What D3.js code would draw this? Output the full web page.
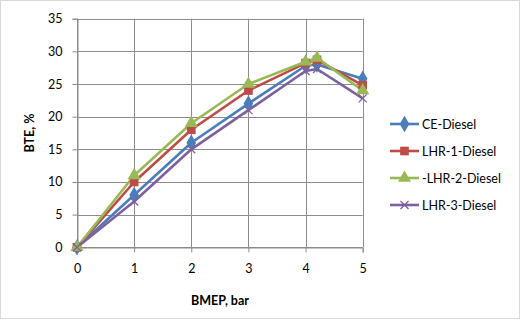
<!DOCTYPE html>
<html>
<head>
<meta charset="utf-8">
<script src="https://cdn.jsdelivr.net/npm/d3@7"></script>
<style>
  body { margin: 0; background: #fff; }
  text { font-family: Lato, "Open Sans", sans-serif; fill: #000; }
</style>
</head>
<body>
<svg id="chart" width="521" height="320"></svg>
<script>
// data
var bmep = [0, 1, 2, 3, 4, 4.2, 5];
var ceDiesel = [0, 8, 16, 22, 27.8, 28, 25.8];
var lhr1Diesel = [0, 10, 18, 24, 28.2, 28.7, 24.8];
var lhr2Diesel = [0, 11, 19, 25, 28.4, 29, 24];
var lhr3Diesel = [0, 7, 15, 21, 27, 27.3, 22.8];
var seriesNames = ["CE-Diesel", "LHR-1-Diesel", "-LHR-2-Diesel", "LHR-3-Diesel"];
var xTicks = [0, 1, 2, 3, 4, 5];
var yTicks = [0, 5, 10, 15, 20, 25, 30, 35];

var series = [
  { name: seriesNames[0], values: ceDiesel, color: "#4a7ebb", symbol: d3.symbolDiamond, size: 80 },
  { name: seriesNames[1], values: lhr1Diesel, color: "#be4b48", symbol: d3.symbolSquare, size: 75 },
  { name: seriesNames[2], values: lhr2Diesel, color: "#98b954", symbol: d3.symbolTriangle, size: 75 },
  { name: seriesNames[3], values: lhr3Diesel, color: "#7d60a0", symbol: "x", size: 0 }
];

var svg = d3.select("#chart");

// outer chart border
svg.append("rect")
  .attr("x", 0.5).attr("y", 0.5)
  .attr("width", 519).attr("height", 318)
  .attr("fill", "#fff")
  .attr("stroke", "#d9d9d9");

var x = d3.scaleLinear().domain([0, 5]).range([77, 362.7]);
var y = d3.scaleLinear().domain([0, 35]).range([247.3, 18.7]);

// gridlines
svg.append("g").selectAll("line").data(yTicks).join("line")
  .attr("x1", x(0)).attr("x2", x(5))
  .attr("y1", d => Math.round(y(d)) + 0.5).attr("y2", d => Math.round(y(d)) + 0.5)
  .attr("stroke", "#8c8c8c");
svg.append("g").selectAll("line").data(xTicks).join("line")
  .attr("x1", d => Math.round(x(d)) + 0.5).attr("x2", d => Math.round(x(d)) + 0.5)
  .attr("y1", y(35)).attr("y2", y(0))
  .attr("stroke", "#8c8c8c");

// axes
var xAxis = svg.append("g")
  .attr("transform", "translate(0," + (Math.round(y(0)) + 0.5) + ")")
  .call(d3.axisBottom(x).tickValues(xTicks).tickFormat(d3.format("d")).tickSize(5).tickPadding(12));
var yAxis = svg.append("g")
  .attr("transform", "translate(" + (Math.round(x(0)) + 0.5) + ",0)")
  .call(d3.axisLeft(y).tickValues(yTicks).tickFormat(d3.format("d")).tickSize(5).tickPadding(10));
[xAxis, yAxis].forEach(function (a) {
  a.select(".domain").attr("stroke", "#8c8c8c");
  a.selectAll(".tick line").attr("stroke", "#8c8c8c");
  a.selectAll(".tick text").style("font-size", "12.5px").style("font-family", "Lato, sans-serif");
});

// lines
var line = d3.line()
  .x((d, i) => x(bmep[i]))
  .y(d => y(d));

function drawMarker(g, s, px, py) {
  if (s.symbol === "x") {
    g.append("path")
      .attr("d", "M" + (px - 4) + "," + (py - 4) + "L" + (px + 4) + "," + (py + 4) +
                 "M" + (px - 4) + "," + (py + 4) + "L" + (px + 4) + "," + (py - 4))
      .attr("stroke", s.color).attr("stroke-width", 1.3).attr("fill", "none");
  } else {
    g.append("path")
      .attr("d", d3.symbol().type(s.symbol).size(s.size)())
      .attr("transform", "translate(" + px + "," + py + ")")
      .attr("fill", s.color);
  }
}

series.forEach(function (s) {
  svg.append("path")
    .datum(s.values)
    .attr("d", line)
    .attr("fill", "none")
    .attr("stroke", s.color)
    .attr("stroke-width", 2.6)
    .attr("stroke-linejoin", "round");
});
series.forEach(function (s) {
  var g = svg.append("g");
  s.values.forEach(function (v, i) {
    drawMarker(g, s, x(bmep[i]), y(v));
  });
});

// legend
var legend = svg.append("g");
series.forEach(function (s, i) {
  var ly = 124 + i * 27;
  legend.append("line")
    .attr("x1", 390).attr("x2", 419)
    .attr("y1", ly).attr("y2", ly)
    .attr("stroke", s.color).attr("stroke-width", 2.6);
  drawMarker(legend, s, 404.5, ly);
  legend.append("text")
    .attr("x", 422).attr("y", ly + 4.5)
    .style("font-size", "12.5px")
    .text(s.name);
});

// axis titles
svg.append("text")
  .attr("x", 220).attr("y", 305)
  .attr("text-anchor", "middle")
  .style("font-size", "12.5px").style("font-weight", "bold")
  .text("BMEP, bar");
svg.append("text")
  .attr("transform", "translate(34,133) rotate(-90)")
  .attr("text-anchor", "middle")
  .style("font-size", "12.5px").style("font-weight", "bold")
  .text("BTE, %");
</script>
</body>
</html>
